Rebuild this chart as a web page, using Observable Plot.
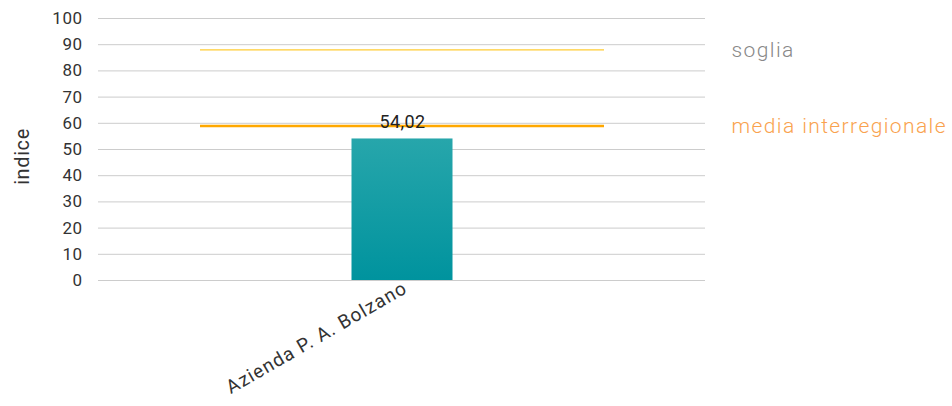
<!DOCTYPE html>
<html><head><meta charset="utf-8">
<script src="https://cdn.jsdelivr.net/npm/d3@7"></script>
<script src="https://cdn.jsdelivr.net/npm/@observablehq/plot@0.6"></script>
<style>
body{margin:0;background:#fff;font-family:Roboto,"DejaVu Sans",sans-serif}
g[aria-label="y-axis tick label"] text{letter-spacing:0.5px}
g[aria-label="x-axis tick label"] text{letter-spacing:1.1px}
g[aria-description="ref labels"] text{letter-spacing:1.4px}
g[aria-description="y title"] text{letter-spacing:0.6px}
g[aria-description="value label"] text{letter-spacing:0.4px}
</style>
</head><body><div id="chart"></div>
<script>
const categories = ["Azienda P. A. Bolzano"];
const values = [54.02];
const yTicks = [0,10,20,30,40,50,60,70,80,90,100];
const refLabels = ["soglia", "media interregionale"];
const refValues = [88, 59];

const bars = categories.map((c, i) => ({cat: c, v: values[i]}));
const refs = refLabels.map((l, i) => ({label: l, v: refValues[i]}));
const fmt = v => v.toFixed(2).replace(".", ",");

const gradient = () => {
  const defs = d3.create("svg:defs");
  const g = defs.append("linearGradient").attr("id", "barGrad")
    .attr("x1", 0).attr("y1", 0).attr("x2", 0).attr("y2", 1);
  g.append("stop").attr("offset", "0%").attr("stop-color", "#27a6ab");
  g.append("stop").attr("offset", "100%").attr("stop-color", "#00939e");
  return defs.node();
};

const chart = Plot.plot({
  width: 952, height: 406,
  marginLeft: 98, marginRight: 247, marginTop: 18, marginBottom: 126,
  style: {fontFamily: "Roboto, sans-serif", fontSize: "17px", color: "#333", background: "#fff"},
  x: {domain: categories, paddingInner: 0, paddingOuter: 0.25, axis: null},
  y: {domain: [0, 100], axis: null},
  marks: [
    gradient,
    Plot.gridY(yTicks, {stroke: "#cccccc", strokeOpacity: 1, strokeWidth: 1}),
    Plot.axisY(yTicks, {tickSize: 0, tickPadding: 16, fontSize: 17, fill: "#333", label: null}),
    Plot.axisX({tickSize: 0, tickPadding: 6, tickRotate: -30, fontSize: 19, fill: "#333", label: null, dx: 3}),
    Plot.text(["indice"], {ariaDescription: "y title", frameAnchor: "left", textAnchor: "middle", dx: -76, dy: 7, rotate: -90, fontSize: 20, fill: "#333"}),
    Plot.barY(bars, {x: "cat", y: "v", fill: "url(#barGrad)", insetLeft: 151.5, insetRight: 151.5}),
    Plot.tickY(refs.slice(0,1), {x: () => categories[0], y: "v", stroke: "#ffcc33", strokeWidth: 1.3}),
    Plot.tickY(refs.slice(1), {x: () => categories[0], y: "v", stroke: "#ffa800", strokeWidth: 2.5}),
    Plot.text(bars, {ariaDescription: "value label", x: "cat", y: "v", text: d => fmt(d.v), dy: -17, fontSize: 18, fill: "#222"}),
    Plot.text(refs, {ariaDescription: "ref labels", y: "v", text: "label", frameAnchor: "right", dx: 26, textAnchor: "start", fontSize: 21, fontWeight: 300,
      fill: d => d.label === "soglia" ? "#888888" : "#f9a24e"})
  ]
});
document.getElementById("chart").appendChild(chart);
</script>
</body></html>
